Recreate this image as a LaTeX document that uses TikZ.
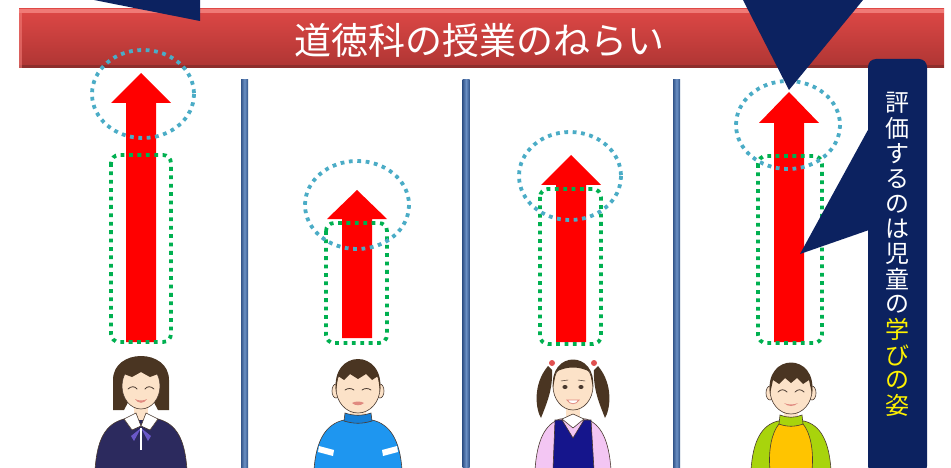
\documentclass[tikz,border=0pt]{standalone}
\usepackage{fontspec}
\newfontfamily\jpfont{Noto Sans CJK JP}
\definecolor{bannertop}{HTML}{DE4846}
\definecolor{bannerbot}{HTML}{AE3533}
\definecolor{bannerhi}{HTML}{F07A76}
\definecolor{bannerlo}{HTML}{8E2E2C}
\definecolor{navy}{HTML}{0C2260}
\definecolor{barmid}{HTML}{6B90C4}
\definecolor{baredge}{HTML}{33558A}
\definecolor{dotcyan}{HTML}{4BACC6}
\definecolor{dotgreen}{HTML}{00B050}
\definecolor{skin}{HTML}{FCE2C8}
\definecolor{outline}{HTML}{4A3A30}
\definecolor{hair}{HTML}{4A3522}
\definecolor{lip}{HTML}{E08A80}
\definecolor{uniform}{HTML}{2C2A5E}
\definecolor{ribbon}{HTML}{6A58C8}
\definecolor{shirtblue}{HTML}{1E96F0}
\definecolor{shirtdark}{HTML}{1680D8}
\definecolor{pinkshirt}{HTML}{F3C6F3}
\definecolor{pinafore}{HTML}{15158C}
\definecolor{tie}{HTML}{E05050}
\definecolor{limegreen}{HTML}{A8D40C}
\definecolor{sunyellow}{HTML}{FFC400}
% red "growth" arrow: centre x, tip y, head base y, bottom y
\newcommand\growarrow[4]{%
  \fill[red] (#1-15,#4) -- (#1-15,#3) -- (#1-30,#3) -- (#1,#2)
    -- (#1+30,#3) -- (#1+15,#3) -- (#1+15,#4) -- cycle;}
\begin{document}
\begin{tikzpicture}[x=1pt,y=-1pt,
  greenbox/.style={draw=dotgreen,line width=3.8pt,dash pattern=on 3.8pt off 4.6pt,rounded corners=8pt},
  cyanring/.style={draw=dotcyan,line width=3.8pt,dash pattern=on 3.8pt off 4.6pt},
  divider/.style={left color=baredge,right color=baredge,middle color=barmid},
  person/.style={draw=outline,line width=0.6pt},
  feat/.style={draw=outline,line width=0.8pt,line cap=round},
  vchar/.style={font=\jpfont\fontsize{24}{24}\selectfont,inner sep=0pt,anchor=center}]
\useasboundingbox (0,0) rectangle (951,468);

% title banner
\shade[top color=bannertop,bottom color=bannerbot] (19,9) rectangle (944,68);
\fill[bannerhi] (19,9) rectangle (944,13);
\fill[bannerlo] (19,65) rectangle (944,68);
\fill[bannerhi,opacity=0.6] (19,9) rectangle (22,68);
\node[font=\jpfont\fontsize{37}{40}\selectfont,text=white,inner sep=0pt] (title) at (479,40) {道徳科の授業のねらい};

% column dividers
\foreach \bx/\nm in {244.5/d1,466/d2,676.5/d3}{
  \shade[divider] (\bx-3.5,80) rectangle (\bx+3.5,470);
  \coordinate (\nm) at (\bx,80);
}

% growth arrows
\growarrow{141}{73}{103}{342}
\growarrow{357}{190}{219}{338}
\growarrow{571}{155}{185}{342}
\growarrow{789}{92}{123}{342}

% dotted frames around the arrow shafts
\draw[greenbox] (111,155) rectangle (171,342);
\draw[greenbox] (326,223) rectangle (387,343);
\draw[greenbox] (540,189) rectangle (601,344);
\draw[greenbox] (758,156) rectangle (822,343);

% dotted rings around the arrow heads
\draw[cyanring] (143,94) ellipse [x radius=51,y radius=44];
\draw[cyanring] (357,205) ellipse [x radius=52,y radius=44];
\draw[cyanring] (570,176) ellipse [x radius=51,y radius=44];
\draw[cyanring] (788,125) ellipse [x radius=52,y radius=44];

% ---- pupil 1: girl in school uniform
\filldraw[person,fill=uniform] (95,470) .. controls (97,440) and (105,424) .. (124,419) -- (158,419) .. controls (177,424) and (185,440) .. (187,470) -- cycle;
\fill[skin] (134,398) rectangle (148,420);
\filldraw[person,fill=white] (124,419) -- (136,413) -- (141,426) -- (132,430) -- cycle;
\filldraw[person,fill=white] (158,419) -- (146,413) -- (141,426) -- (150,430) -- cycle;
\fill[ribbon] (141,428) -- (131,436) -- (134,441) -- cycle;
\fill[ribbon] (141,428) -- (151,436) -- (148,441) -- cycle;
\draw[white,line width=1.2pt] (141,428) -- (141,450);
\fill[hair] (113,410) -- (113,380) .. controls (113,348) and (169,348) .. (169,380) -- (169,410) -- (158,410) -- (150,395) -- (132,395) -- (124,410) -- cycle;
\filldraw[person,fill=skin] (141,386) ellipse [x radius=19,y radius=23];
\fill[hair] (121,384) .. controls (118,352) and (164,352) .. (161,384) -- (158,374) -- (150,377) -- (141,372) -- (132,377) -- (124,374) -- cycle;
\draw[feat] (128,389) .. controls (131,386) and (135,386) .. (137,389);
\draw[feat] (145,389) .. controls (147,386) and (151,386) .. (154,389);
\fill[lip] (135,399) .. controls (138,404) and (144,404) .. (147,399) .. controls (144,401) and (138,401) .. (135,399) -- cycle;

% ---- pupil 2: boy in blue sweater
\filldraw[person,fill=shirtblue] (314,470) .. controls (316,440) and (326,424) .. (344,420) -- (372,420) .. controls (390,424) and (400,440) .. (402,470) -- cycle;
\fill[white] (319,446) -- (334,450) -- (333,456) -- (318,452) -- cycle;
\fill[white] (397,446) -- (382,450) -- (383,456) -- (398,452) -- cycle;
\fill[skin] (350,400) rectangle (366,415);
\filldraw[person,fill=shirtdark] (344,421) -- (345,413) .. controls (354,416) and (362,416) .. (371,413) -- (372,421) .. controls (362,424) and (354,424) .. (344,421) -- cycle;
\filldraw[person,fill=skin] (336,391) ellipse [x radius=4,y radius=7];
\filldraw[person,fill=skin] (380,391) ellipse [x radius=4,y radius=7];
\filldraw[person,fill=skin] (358,388) ellipse [x radius=22,y radius=25];
\fill[hair] (336,392) .. controls (330,348) and (386,348) .. (380,392) -- (378,376) -- (372,380) -- (366,374) -- (358,379) -- (350,374) -- (344,380) -- (338,376) -- cycle;
\draw[feat] (345,390) .. controls (348,388) and (351,388) .. (354,390);
\draw[feat] (362,390) .. controls (365,388) and (368,388) .. (371,390);
\fill[lip] (352,403) .. controls (355,401) and (361,401) .. (364,403) .. controls (361,406) and (355,406) .. (352,403) -- cycle;

% ---- pupil 3: girl with pigtails and pinafore
\filldraw[person,fill=pinkshirt] (535,470) .. controls (537,440) and (545,424) .. (560,419) -- (586,419) .. controls (601,424) and (609,440) .. (611,470) -- cycle;
\filldraw[person,fill=pinafore] (553,470) -- (555,420) -- (562,420) -- (573,438) -- (584,420) -- (591,420) -- (594,470) -- cycle;
\fill[skin] (566,400) rectangle (580,418);
\filldraw[person,fill=white] (562,419) -- (573,414) -- (584,419) -- (573,428) -- cycle;
\fill[hair] (548,366) .. controls (532,385) and (536,410) .. (541,418) .. controls (546,405) and (553,390) .. (552,370) -- cycle;
\fill[hair] (598,366) .. controls (614,385) and (610,410) .. (605,418) .. controls (600,405) and (593,390) .. (594,370) -- cycle;
\filldraw[person,fill=skin] (573,386) ellipse [x radius=20,y radius=24];
\fill[hair] (553,388) .. controls (549,350) and (597,350) .. (593,388) -- (590,372) .. controls (580,366) and (566,366) .. (556,372) -- cycle;
\fill[tie] (552,363) circle [radius=3];
\fill[tie] (594,363) circle [radius=3];
\fill[outline] (565,387) ellipse [x radius=2.6,y radius=2];
\fill[outline] (581,387) ellipse [x radius=2.6,y radius=2];
\draw[feat,line width=0.5pt] (561,381) -- (568,380) (578,380) -- (585,381);
\filldraw[draw=lip,fill=white,line width=0.8pt] (567,400) .. controls (570,405) and (576,405) .. (579,400) -- cycle;

% ---- pupil 4: boy in green and yellow
\filldraw[person,fill=limegreen] (751,470) .. controls (753,440) and (762,425) .. (778,421) -- (804,421) .. controls (820,425) and (829,440) .. (831,470) -- cycle;
\filldraw[person,fill=sunyellow] (770,470) .. controls (768,450) and (772,432) .. (779,424) -- (803,424) .. controls (810,432) and (814,450) .. (812,470) -- cycle;
\fill[skin] (784,404) rectangle (798,418);
\filldraw[person,fill=limegreen] (779,424) -- (780,415) .. controls (787,418) and (795,418) .. (802,415) -- (803,424) .. controls (795,427) and (787,427) .. (779,424) -- cycle;
\filldraw[person,fill=skin] (770,393) ellipse [x radius=4,y radius=7];
\filldraw[person,fill=skin] (812,393) ellipse [x radius=4,y radius=7];
\filldraw[person,fill=skin] (791,390) ellipse [x radius=21,y radius=24];
\fill[hair] (770,394) .. controls (764,352) and (818,352) .. (812,394) -- (809,380) -- (803,384) -- (797,378) -- (791,383) -- (785,378) -- (779,384) -- (773,380) -- cycle;
\draw[feat] (778,392) .. controls (781,389) and (784,389) .. (787,392);
\draw[feat] (795,392) .. controls (798,389) and (801,389) .. (804,392);
\fill[lip] (784,403) .. controls (788,407) and (794,407) .. (798,403) .. controls (794,405) and (788,405) .. (784,403) -- cycle;

% callout tips reaching down from above
\fill[navy] (94,0) -- (200,0) -- (200,21) -- cycle;
\fill[navy] (743,0) -- (863,0) -- (789,90) -- cycle;

% side callout with vertical caption
\fill[navy,rounded corners=8pt] (868,59) rectangle (927,474);
\fill[navy] (869,128) -- (800,254) -- (869,230) -- cycle;
\foreach \c [count=\i] in {評,価,す,る,の,は,児,童,の}
  \node[vchar,text=white] (w\i) at (897,{103+25.2*(\i-1)}) {\c};
\foreach \c [count=\i] in {学,び,の,姿}
  \node[vchar,text=yellow] (y\i) at (897,{103+25.2*(\i+8)}) {\c};
\end{tikzpicture}
\end{document}
